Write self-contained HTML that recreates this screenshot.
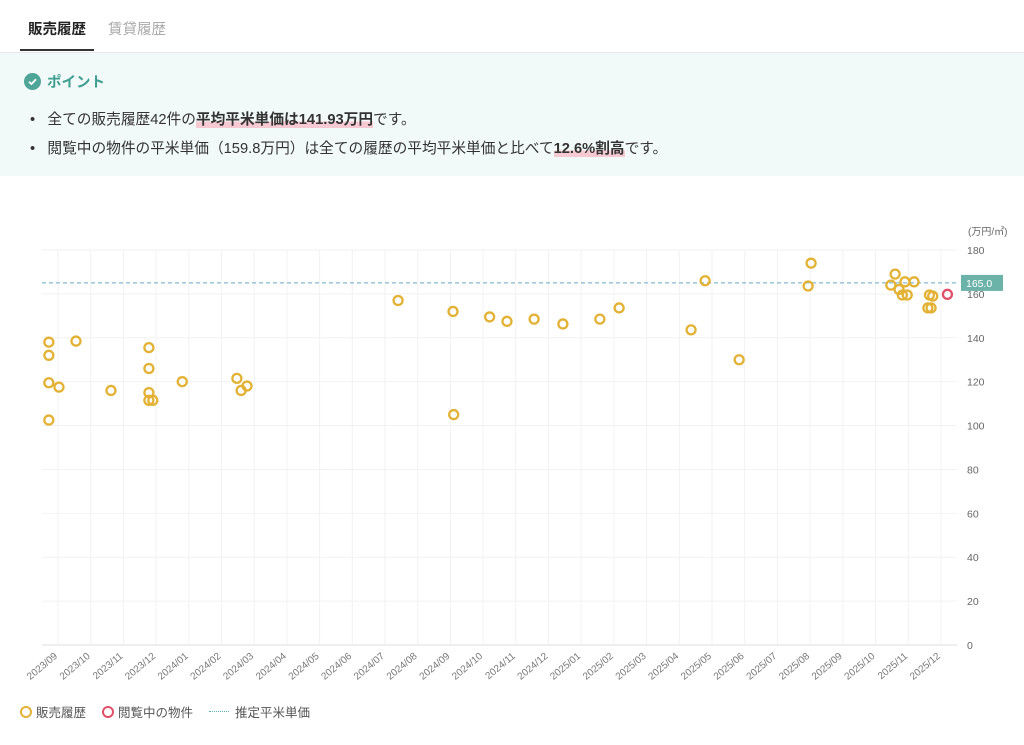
<!DOCTYPE html>
<html><head><meta charset="utf-8">
<style>
body{margin:0;width:1024px;height:745px;background:#fff;font-family:"Liberation Sans","Noto Sans CJK JP",sans-serif;position:relative;overflow:hidden;color:#333}
.tab{position:absolute;top:18px;font-size:14.5px}
.hl{background:linear-gradient(transparent 60%,#f7c9d2 60%);font-weight:bold}
</style></head><body>
<div class="tab" style="left:28px;font-weight:bold;color:#222">販売履歴</div>
<div style="position:absolute;left:20px;top:49px;width:74px;height:2px;background:#333"></div>
<div class="tab" style="left:108px;color:#aaa">賃貸履歴</div>
<div style="position:absolute;left:0;top:52px;width:1024px;height:123px;background:#f1f9f9;border-top:1px solid #e6e6e6">
  <div style="position:absolute;left:24px;top:18px;font-size:14.5px;color:#3e9e8f;font-weight:bold;display:flex;align-items:center">
    <svg width="17" height="17" style="margin-right:6px"><circle cx="8.5" cy="8.5" r="8.5" fill="#4fa597"/><path d="M5 8.8 L7.5 11 L12 6.3" stroke="#fff" stroke-width="1.8" fill="none"/></svg>ポイント</div>
  <div style="position:absolute;left:30px;top:55px;font-size:14.7px">•&nbsp;&nbsp;&nbsp;全ての販売履歴42件の<span class="hl">平均平米単価は141.93万円</span>です。</div>
  <div style="position:absolute;left:30px;top:84px;font-size:14.7px">•&nbsp;&nbsp;&nbsp;閲覧中の物件の平米単価（159.8万円）は全ての履歴の平均平米単価と比べて<span class="hl">12.6%割高</span>です。</div>
</div>
<svg id="chart" width="1024" height="745" style="position:absolute;left:0;top:0" font-family="Liberation Sans, Noto Sans CJK JP, sans-serif"></svg>
<div style="position:absolute;left:20px;top:702px;font-size:12.5px;color:#555;display:flex;align-items:center">
  <span style="display:flex;align-items:center;margin-right:16px"><span style="width:8px;height:8px;border:2px solid #e3b234;border-radius:50%;margin-right:4px"></span>販売履歴</span>
  <span style="display:flex;align-items:center;margin-right:16px"><span style="width:8px;height:8px;border:2px solid #e0506b;border-radius:50%;margin-right:4px"></span>閲覧中の物件</span>
  <span style="display:flex;align-items:center"><span style="width:20px;border-top:1px dotted #5fb3b0;margin-right:6px"></span>推定平米単価</span>
</div>
<script>
const months=["2023/09","2023/10","2023/11","2023/12","2024/01","2024/02","2024/03","2024/04","2024/05","2024/06","2024/07","2024/08","2024/09","2024/10","2024/11","2024/12","2025/01","2025/02","2025/03","2025/04","2025/05","2025/06","2025/07","2025/08","2025/09","2025/10","2025/11","2025/12"];
const yTicks=[0,20,40,60,80,100,120,140,160,180];
const salesMonth=[-0.28,-0.28,-0.28,-0.28,0.03,0.55,1.62,2.78,2.78,2.78,2.78,2.9,3.8,5.47,5.6,5.78,10.4,12.08,12.1,13.2,13.73,14.56,15.44,16.57,17.16,19.36,19.79,20.83,22.94,23.03,25.47,25.6,25.72,25.82,25.97,25.9,26.18,26.6,26.7,26.65,26.75];
const salesPrice=[138,132,119.5,102.5,117.5,138.5,116,135.5,126,115,111.5,111.5,120,121.5,116,118,157,152,105,149.5,147.5,148.5,146.3,148.5,153.6,143.6,166,130,163.6,174,164,169,162,159.5,159.5,165.5,165.5,153.6,153.6,159.5,159];
const currentMonth=[27.2];
const currentPrice=[159.8];
const estimate=165.0;

const svg=document.getElementById('chart');
const NS='http://www.w3.org/2000/svg';
const X0=58,DX=32.7,Y0=645,YS=395/180,L=42,R=957;
const x=m=>X0+m*DX, y=v=>Y0-v*YS;
function el(t,a){const e=document.createElementNS(NS,t);for(const k in a)e.setAttribute(k,a[k]);svg.appendChild(e);return e;}
yTicks.forEach(v=>{
  const g=el('line',{x1:L,x2:R,y1:y(v),y2:y(v),stroke:v===0?'#ddd':'#f2f2f2'});
  
  
  const t=el('text',{x:967,y:y(v)+4,'font-size':10.5,fill:'#666'});t.textContent=v;
  
  
});
const u=el('text',{x:968,y:235,'font-size':10,fill:'#666'});u.textContent='(万円/㎡)';


months.forEach((m,i)=>{
  const g=el('line',{x1:x(i),x2:x(i),y1:y(180),y2:Y0,stroke:'#f2f2f2'});
  
  
  const t=el('text',{x:x(i),y:Y0+12,'font-size':10,fill:'#777','text-anchor':'end',transform:`rotate(-40 ${x(i)} ${Y0+12})`});t.textContent=m;
  
  
});
const d=el('line',{x1:L,x2:R,y1:y(estimate),y2:y(estimate),stroke:'#6aa6c8','stroke-dasharray':'4 3'});


const b=el('rect',{x:961,y:y(estimate)-8,width:42,height:16,fill:'#6bb3a8'});


const bt=el('text',{x:966,y:y(estimate)+4,'font-size':10.5,fill:'#fff'});bt.textContent=estimate.toFixed(1);


salesMonth.forEach((m,i)=>{
  const c=el('circle',{cx:x(m),cy:y(salesPrice[i]),r:4.5,fill:'none',stroke:'#e3b234','stroke-width':2.3});
  
  
});
currentMonth.forEach((m,i)=>{
  const c=el('circle',{cx:x(m),cy:y(currentPrice[i]),r:4.5,fill:'none',stroke:'#e0506b','stroke-width':2.3});
  
  
});
</script>
</body></html>
